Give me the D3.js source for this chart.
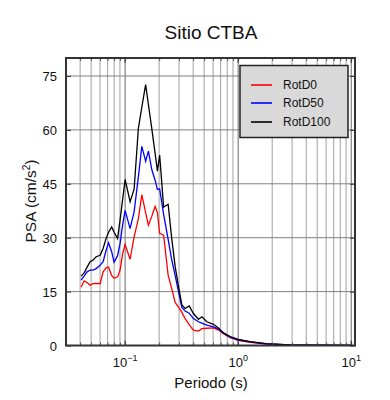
<!DOCTYPE html>
<html><head><meta charset="utf-8">
<script src="https://cdn.jsdelivr.net/npm/d3@7"></script>
<style>
html,body{margin:0;padding:0;background:#fff;}
text{font-family:"Liberation Sans",Arial,Helvetica,sans-serif;fill:#111;}
</style></head>
<body><svg id="c" width="390" height="400"></svg>
<script>
const periods = [0.0408,0.0434,0.0461,0.0490,0.0521,0.0554,0.0601,0.0639,0.0679,0.0714,0.0760,0.0799,0.0858,0.0903,0.0950,0.100,0.1107,0.1201,0.1311,0.1405,0.1519,0.1608,0.1723,0.1843,0.1931,0.2020,0.2191,0.2402,0.2579,0.2770,0.2944,0.3176,0.3396,0.3685,0.4022,0.4455,0.4774,0.5285,0.6045,0.6695,0.7413,0.8495,1.0,1.277,1.77,2.89,5.32,10.0];
const rotD0 = [16.2,18.0,17.5,16.8,17.2,17.3,17.2,20.5,21.6,21.8,19.5,18.7,19.1,21.0,25.5,28.1,24.0,30.2,35.3,42.0,37.0,33.5,36.0,38.7,37.0,31.2,30.7,19.6,15.9,12.0,10.8,9.2,7.5,5.8,4.3,4.0,4.7,4.8,4.9,4.3,3.3,2.2,1.4,0.9,0.4,0.15,0.05,0.02];
const rotD50 = [18.2,19.3,20.5,21.0,21.0,21.4,22.3,23.3,26.5,28.6,26.1,23.2,25.0,28.4,33.5,37.6,32.5,37.2,47.0,55.4,51.3,54.1,48.9,46.0,43.4,43.6,36.5,29.5,24.0,19.5,15.5,10.6,9.6,9.0,7.5,6.6,6.2,5.7,5.2,4.6,3.4,2.3,1.6,1.0,0.45,0.18,0.07,0.03];
const rotD100 = [19.3,20.2,21.8,23.3,23.8,24.7,25.1,27.0,29.8,31.5,33.0,31.5,29.8,35.0,40.5,46.2,40.0,43.5,60.5,66.3,72.6,67.0,60.3,53.4,48.5,53.0,38.5,39.3,30.0,22.0,17.0,11.3,10.3,11.0,8.9,7.3,8.0,6.6,5.9,4.9,3.5,2.5,1.7,1.1,0.5,0.2,0.08,0.03];
const seriesNames = ["RotD0","RotD50","RotD100"];
const seriesColors = ["#ff0000","#0000ff","#000000"];
const yTicks = [0,15,30,45,60,75];
const xMajor = [0.1,1,10];
const xMajorExp = ["\u22121","0","1"];

const svg = d3.select("#c");
const L=66, R=355, T=58, B=345.5;
const x = d3.scaleLog().domain([0.03,10.8]).range([L,R]);
const y = d3.scaleLinear().domain([0,80]).range([B,T]);

const minor=[];
for (let e=-2;e<=1;e++) for (let m=1;m<=9;m++){const v=m*Math.pow(10,e); if(v>=0.03&&v<=10.8) minor.push(v);}

const g = svg.append("g");
g.selectAll("line.vg").data(minor).join("line")
 .attr("x1",d=>x(d)).attr("x2",d=>x(d)).attr("y1",T).attr("y2",B)
 .attr("stroke",d=>xMajor.some(v=>Math.abs(v-d)<1e-9)?"#6a6a6a":"#a0a0a0").attr("stroke-width",1);
g.selectAll("line.hg").data(yTicks).join("line")
 .attr("x1",L).attr("x2",R).attr("y1",d=>y(d)).attr("y2",d=>y(d))
 .attr("stroke","#808080").attr("stroke-width",1);

svg.append("clipPath").attr("id","clp").append("rect").attr("x",L).attr("y",T).attr("width",R-L).attr("height",B-T);
const line = d3.line().x(d=>x(d[0])).y(d=>y(d[1]));
[rotD0,rotD50,rotD100].forEach((vals,i)=>{
  svg.append("path").attr("clip-path","url(#clp)")
   .datum(periods.map((p,j)=>[p,vals[j]]))
   .attr("d",line).attr("fill","none").attr("stroke",seriesColors[i]).attr("stroke-width",1.3);
});

const fmt = ()=>"";
svg.append("g").attr("transform",`translate(0,${B})`).call(d3.axisBottom(x).tickValues(minor).tickSizeInner(-3).tickSizeOuter(0).tickFormat(fmt))
 .call(a=>{a.select(".domain").remove(); a.selectAll("line").attr("stroke","#555");});
svg.append("g").attr("transform",`translate(0,${T})`).call(d3.axisTop(x).tickValues(minor).tickSizeInner(-3).tickSizeOuter(0).tickFormat(fmt))
 .call(a=>{a.select(".domain").remove(); a.selectAll("line").attr("stroke","#555");});
svg.append("g").attr("transform",`translate(${L},0)`).call(d3.axisLeft(y).tickValues(yTicks).tickSizeInner(-5).tickSizeOuter(0).tickFormat(fmt))
 .call(a=>{a.select(".domain").remove(); a.selectAll("line").attr("stroke","#333");});
svg.append("g").attr("transform",`translate(${R},0)`).call(d3.axisRight(y).tickValues(yTicks).tickSizeInner(-5).tickSizeOuter(0).tickFormat(fmt))
 .call(a=>{a.select(".domain").remove(); a.selectAll("line").attr("stroke","#333");});
svg.selectAll("line.mt").data(xMajor).join("line").attr("x1",d=>x(d)).attr("x2",d=>x(d)).attr("y1",B).attr("y2",B-5).attr("stroke","#333");
svg.selectAll("line.mt2").data(xMajor).join("line").attr("x1",d=>x(d)).attr("x2",d=>x(d)).attr("y1",T).attr("y2",T+5).attr("stroke","#333");

svg.append("rect").attr("x",L).attr("y",T).attr("width",R-L).attr("height",B-T)
 .attr("fill","none").attr("stroke","#333").attr("stroke-width",2);

svg.selectAll("text.yl").data(yTicks).join("text")
 .attr("x",L-9).attr("y",d=>y(d)+5).attr("text-anchor","end").attr("font-size",13).text(d=>d);
xMajor.forEach((v,i)=>{
  const t=svg.append("text").attr("x",x(v)).attr("y",367).attr("text-anchor","middle").attr("font-size",13);
  t.append("tspan").text("10");
  t.append("tspan").attr("dy",-6).attr("font-size",9).text(xMajorExp[i]);
});
svg.append("text").attr("x",211).attr("y",39).attr("text-anchor","middle").attr("font-size",19).text("Sitio CTBA");
svg.append("text").attr("x",211).attr("y",388).attr("text-anchor","middle").attr("font-size",15).text("Periodo (s)");
const yl=svg.append("text").attr("transform","translate(36,201) rotate(-90)").attr("text-anchor","middle").attr("font-size",15.5);
yl.append("tspan").text("PSA (cm/s");
yl.append("tspan").attr("dy",-6).attr("font-size",10).text("2");
yl.append("tspan").attr("dy",6).text(")");

const lg=svg.append("g");
lg.append("rect").attr("x",240).attr("y",65.5).attr("width",108).attr("height",72).attr("fill","#d9d9d9").attr("stroke","#222").attr("stroke-width",1.5);
const ly=[85,103,122];
seriesNames.forEach((n,i)=>{
  lg.append("line").attr("x1",251).attr("x2",272).attr("y1",ly[i]).attr("y2",ly[i]).attr("stroke",seriesColors[i]).attr("stroke-width",1.6);
  lg.append("text").attr("x",283).attr("y",ly[i]+4).attr("font-size",12).text(n);
});
</script></body></html>
